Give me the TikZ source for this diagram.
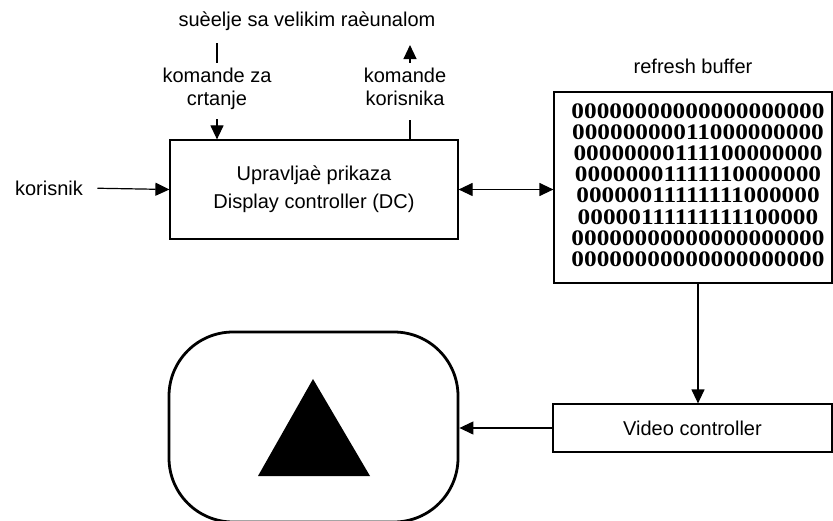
\documentclass[tikz,border=0pt]{standalone}
\usepackage{fontspec}
\setmainfont{Liberation Sans}
\newfontfamily\bitfont[FakeStretch=1.14]{Liberation Serif}
\usetikzlibrary{arrows.meta}

\begin{document}
\begin{tikzpicture}[x=1pt, y=-1pt,
					>={Triangle[length=14pt,width=13pt]},
					line width=1.2pt,
					labelnode/.style={align=center, inner sep=0pt, font=\fontsize{20}{23}\selectfont},
					boxnode/.style={draw, rectangle, inner sep=0pt, align=center, font=\fontsize{20}{28}\selectfont},
					bitsnode/.style={align=center, inner sep=0pt, font=\bitfont\bfseries\fontsize{22.2}{21.2}\selectfont},
					screennode/.style={draw, rectangle, rounded corners=64pt, line width=2.8pt, minimum width=289pt, minimum height=190pt},
					]
					\useasboundingbox (0,0) rectangle (833,521);
					%Nodes
					\node[labelnode]      (host)  at (307,21)    {suèelje sa velikim raèunalom};
					\node[labelnode]      (cmd)   at (217,89)    {komande za\\crtanje};
					\node[labelnode]      (usr)   at (405,87)    {komande\\korisnika};
					\node[labelnode]      (user)  at (49,188)    {korisnik};
					\node[boxnode, minimum width=288pt, minimum height=99pt] (dc) at (314,189.5) {Upravljaè prikaza\\Display controller (DC)};
					\node[labelnode]      (rbl)   at (693,66)    {refresh buffer};
					\node[boxnode, minimum width=278pt, minimum height=191pt] (buf) at (693,187.5) {};
					\node[bitsnode]       (bits)  at (698,185)   {00000000000000000000\\
						00000000011000000000\\
						00000000111100000000\\
						00000001111110000000\\
						00000011111111000000\\
						00000111111111100000\\
						00000000000000000000\\
						00000000000000000000};
					\node[boxnode, minimum width=279pt, minimum height=48pt] (vid) at (692.5,428) {Video controller};
					\node[screennode]     (scr)   at (313.5,427) {};
					\coordinate (upbase) at (410,0);

					%Picture on the screen
					\fill (313,379) -- (258,476) -- (370,476) -- cycle;

					%Lines
					\draw[shorten <=12pt, shorten >=5pt] (host.south -| cmd.north) -- (cmd.north);
					\draw[->, shorten <=9pt] (cmd.south) -- (cmd.south |- dc.north);
					\draw[shorten >=14pt] (dc.north -| upbase) -- (usr.south -| upbase);
					\draw[->, shorten <=5pt, shorten >=14pt] (usr.north -| upbase) -- (host.south -| upbase);
					\draw[->, shorten <=14pt] (user.east) -- (dc.west);
					\draw[<->] (dc.east) -- (dc.east -| buf.west);
					\draw[->] (bits |- buf.south) -- (bits |- vid.north);
					\draw[->] (vid.west) -- (vid.west -| scr.east);
				\end{tikzpicture}
\end{document}
